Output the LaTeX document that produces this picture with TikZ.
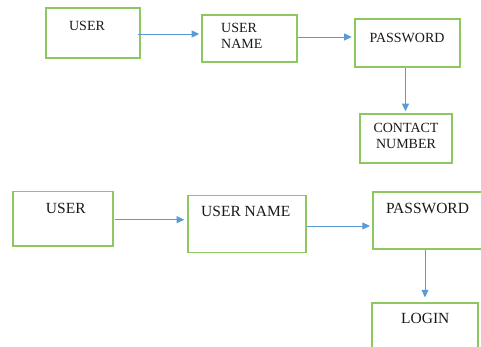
\documentclass[tikz,border=0pt]{standalone}
\usepackage{fontspec}
\setmainfont{Liberation Serif}
\usetikzlibrary{arrows.meta}
\definecolor{boxgreen}{RGB}{140,200,95}
\definecolor{arrowblue}{RGB}{91,155,213}
\tikzset{
  box/.style={draw=boxgreen, line width=1.6pt, rectangle, inner sep=0pt},
  flow/.style={draw=arrowblue, line width=0.9pt, -{Triangle[length=7.5pt,width=7pt]}},
  lbl/.style={anchor=base, inner sep=0pt, text=black!90},
  small/.style={lbl, font=\fontsize{14}{16}\selectfont},
  big/.style={lbl, font=\fontsize{15.5}{18}\selectfont}
}
\begin{document}
\begin{tikzpicture}[x=1pt, y=-1pt]
  \useasboundingbox (0,0) rectangle (481,347);
  \clip (0,0) rectangle (481,347);

  % first flow: user -> user name -> password -> contact number
  \node[box, minimum width=94pt, minimum height=50pt] (u1) at (93,33) {};
  \node[box, minimum width=95pt, minimum height=47pt] (n1) at (249.5,38.5) {};
  \node[box, minimum width=105pt, minimum height=48pt] (p1) at (407.5,43) {};
  \node[box, minimum width=92pt, minimum height=49pt] (c1) at (406,138.5) {};

  \node[small] (u1t) at (87,30.5) {USER};
  \node[small, anchor=base west] (n1ta) at (221,33) {USER};
  \node[small, anchor=base west] (n1tb) at (221,49) {NAME};
  \node[small] (p1t) at (407,43) {PASSWORD};
  \node[small] (c1ta) at (406,133) {CONTACT};
  \node[small] (c1tb) at (406,148.5) {NUMBER};

  \draw[flow, shorten >=2pt] ([xshift=-3pt,yshift=-1pt]u1.east) -- ([yshift=-1pt]u1.east -| n1.west);
  \draw[flow, shorten >=2.5pt] ([yshift=1.5pt]n1.east) -- ([yshift=1.5pt]n1.east -| p1.west);
  \draw[flow, shorten >=2pt] ([xshift=-2pt]p1.south) -- ([xshift=-2pt]p1.south |- c1.north);

  % second flow: user -> user name -> password -> login
  \node[box, minimum width=100pt, minimum height=54pt] (u2) at (63,218.7) {};
  \node[box, minimum width=118pt, minimum height=56.6pt] (n2) at (247,224) {};
  \node[box, minimum width=120pt, minimum height=56.7pt] (p2) at (432.7,220.6) {};
  \node[box, minimum width=106pt, minimum height=70pt] (l2) at (425,337.7) {};

  \node[big] (u2t) at (65.8,213) {USER};
  \node[big] (n2t) at (245.8,216) {USER NAME};
  \node[big] (p2t) at (427.5,213) {PASSWORD};
  \node[big] (l2t) at (425.3,323) {LOGIN};

  \draw[flow, shorten <=1.5pt, shorten >=3pt] ([yshift=-1pt]u2.east) -- ([yshift=-1pt]u2.east -| n2.west);
  \draw[flow, shorten >=2pt] ([yshift=-2pt]n2.east) -- ([yshift=-2pt]n2.east -| p2.west);
  \draw[flow, shorten >=4.5pt] (p2.south -| l2.north) -- (l2.north);
\end{tikzpicture}
\end{document}
